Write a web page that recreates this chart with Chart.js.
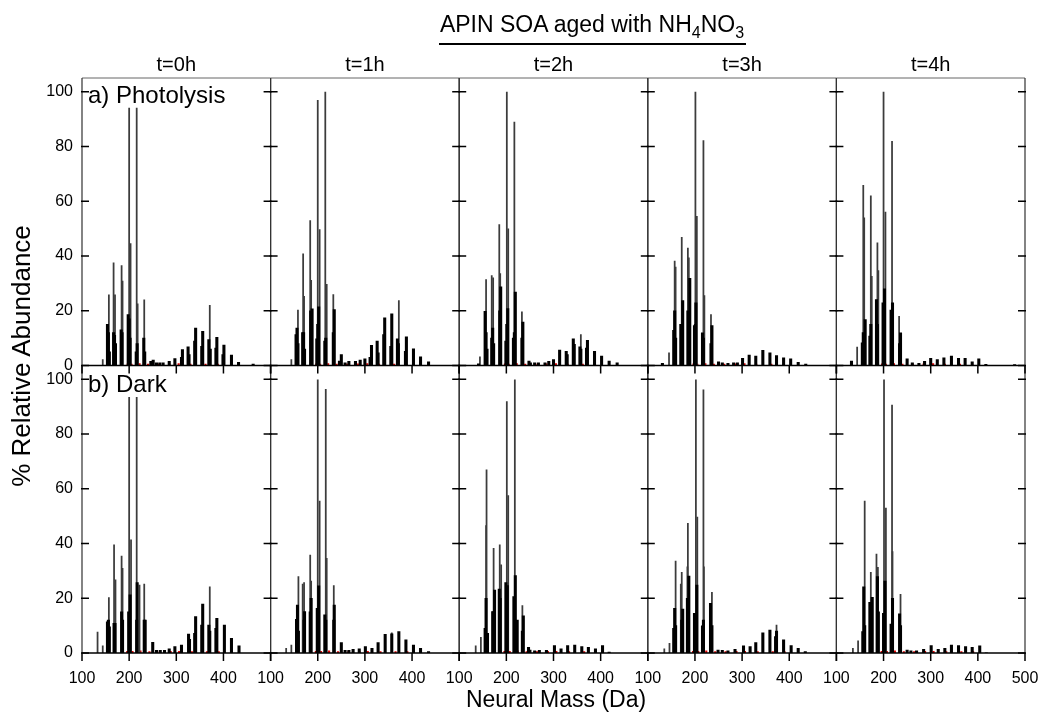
<!DOCTYPE html>
<html><head><meta charset="utf-8">
<script src="https://cdn.jsdelivr.net/npm/chart.js@4.4.1/dist/chart.umd.min.js"></script>
<style>
html,body{margin:0;padding:0;background:#fff;}
#wrap{position:relative;width:1043px;height:712px;overflow:hidden;font-family:"Liberation Sans",Arial,sans-serif;color:#000;background:#fff;}
#c{position:absolute;left:0;top:0;}
.t{position:absolute;white-space:nowrap;line-height:1;}
</style></head><body>
<div id="wrap"><canvas id="c" width="1043" height="712"></canvas></div>
<script>
// ---------- labels ----------
const timeLabels = ['t=0h','t=1h','t=2h','t=3h','t=4h'];
const rowLabels = ['a) Photolysis','b) Dark'];
const xTicks = [100,200,300,400,500];
const yTicks = [0,20,40,60,80,100];

// ---------- data: [neutral mass (Da), % relative abundance] ----------
// thin tall sticks
const photolysis_0h_peaks = [[144,2.2],[157,25.8],[167,37.5],[170,25.8],[184,36.5],[186,30.8],[200,94],[203,44.5],[216,94],[218,22.5],[232,24],[371,22]];
const photolysis_1h_peaks = [[144,2.2],[158,20.2],[169,40.8],[171,25.3],[184,52.9],[186,31.1],[200,96.8],[204,49.6],[216,99.9],[219,29.6],[233,25.9],[372,23.7]];
const photolysis_2h_peaks = [[144,3.2],[157,31.4],[169,32.8],[172,32],[185,51.5],[187,33.6],[201,99.9],[204,49.9],[217,88.9],[233,19.6],[358,11.3]];
const photolysis_3h_peaks = [[145,4.6],[157,38.1],[159,35.9],[172,46.8],[185,42.9],[187,39.3],[201,99.9],[204,54.5],[218,82.1],[220,25.5],[234,18.6]];
const photolysis_4h_peaks = [[144,6.7],[157,65.8],[159,53.9],[173,62],[175,32.6],[187,44.8],[189,34.7],[200,99.9],[204,56],[218,81.9],[233,18]];
const dark_0h_peaks = [[133,7.6],[144,2.6],[157,20.2],[168,39.5],[171,26.7],[184,35.4],[186,30.9],[200,93.4],[204,41.3],[216,93.4],[222,24.8],[232,25.2],[371,24.2]];
const dark_1h_peaks = [[133,1.7],[144,2.9],[159,27.9],[168,25.2],[171,25.7],[184,35.8],[186,26.3],[200,99.8],[204,55.5],[217,96.3],[219,34.6],[234,24.6],[357,7.4]];
const dark_2h_peaks = [[135,2.6],[146,5.7],[157,46.5],[158,66.9],[173,38.2],[186,39.5],[189,32.2],[201,91.8],[204,57.5],[218,99.8],[234,17.3]];
const dark_3h_peaks = [[135,1.5],[146,3.5],[159,33.6],[170,25.2],[172,29.5],[184,31.5],[185,47.4],[202,99.8],[205,49.6],[218,96.1],[219,31.5],[236,22.2],[373,10.2]];
const dark_4h_peaks = [[135,1.7],[146,4.4],[160,55.5],[173,29.5],[185,36.1],[188,31.3],[201,99.8],[205,52.9],[218,90.5],[219,37],[236,21.4]];
// filled cluster bases
const photolysis_0h_base = [[154,15],[156,12],[158,5],[167,12],[169,11],[171,8],[183,13],[185,12],[198,18.6],[200,17],[202,10],[215,5],[217,8],[231,10],[233,5],[246,1.5],[251,2],[258,1],[265,1],[272,1],[285,1.5],[297,2.5],[311,3],[313,5.8],[325,6.8],[327,4],[339,8.9],[341,13.7],[354,7],[356,12.5],[369,9.5],[372,6],[384,6.4],[386,10.3],[399,4],[401,7.5],[417,3.8],[432,1.2],[463,0.5]];
const photolysis_1h_base = [[154,11.3],[156,13.7],[158,8],[168,12],[170,12],[172,6],[185,20],[188,20.7],[198,9.7],[200,15],[202,21.4],[215,8.9],[217,10],[233,12],[235,20.4],[246,1.6],[250,4],[258,1],[266,1.5],[280,1.5],[290,2],[300,2.4],[311,3],[314,7.4],[326,8.9],[328,4.6],[340,11.3],[342,17.4],[355,7],[357,18.9],[369,9.7],[371,8],[386,5.2],[388,10.5],[403,6.1],[418,3.2],[435,1.3]];
const photolysis_2h_base = [[141,0.6],[155,19.8],[157,12],[159,6],[169,10],[171,13.7],[173,8],[186,20],[188,28.7],[199,8.9],[201,15],[203,20.8],[215,10],[217,12],[219,26.8],[233,10],[235,15.9],[248,1.6],[251,1],[260,1],[268,1],[282,1],[290,1.5],[300,2.2],[313,5.6],[327,5.2],[329,4],[342,9.7],[344,7.7],[356,6.8],[358,6],[370,6.4],[372,9.2],[387,5.2],[402,3.4],[418,1.6],[435,1]];
const photolysis_3h_base = [[131,0.8],[155,12.8],[157,20],[159,10],[170,15],[172,12],[174,23.7],[185,20],[189,31.8],[199,14.6],[201,15],[202,22.9],[216,11.9],[218,10],[234,8],[236,14.6],[250,1.3],[258,1],[270,0.8],[282,1],[290,1],[301,2.6],[315,3.8],[329,3.4],[344,5.5],[359,4.6],[373,3.6],[388,2.8],[403,2.4],[419,1.2],[435,0.5]];
const photolysis_4h_base = [[132,1.6],[155,8.3],[157,12],[161,16.8],[171,10.7],[173,15],[185,24.1],[187,15],[199,22.9],[202,28],[216,20.2],[219,22.9],[234,8],[236,11.9],[250,2.4],[261,1],[275,0.8],[287,1.5],[300,2.6],[314,2.2],[328,2.8],[344,3.4],[359,2.6],[373,2.6],[388,1.3],[402,2.4],[417,0.4],[478,0.3]];
const dark_0h_base = [[154,11.4],[156,12],[158,9.6],[168,10.8],[170,10.8],[184,15],[186,12],[199,15],[202,21.2],[216,12],[217,25.7],[232,12],[234,12],[250,3.9],[258,1],[266,1],[275,1],[285,1.5],[297,2.3],[311,2.9],[326,6.9],[328,5],[339,7.2],[341,13.3],[354,10.2],[356,17.9],[369,10.2],[371,8],[384,9],[386,12.7],[402,10.2],[417,5.4],[433,2.6]];
const dark_1h_base = [[155,12.3],[157,17.5],[159,8],[171,12],[172,15.1],[184,15],[186,20],[199,16.3],[202,24.5],[215,13.9],[217,12],[234,12],[235,17.5],[250,3.8],[258,1],[266,1],[275,1.3],[288,1.5],[301,2.3],[315,1.7],[328,3.8],[343,6.8],[357,7],[372,7.8],[387,4.8],[403,2.9],[418,1.7],[435,0.5]];
const dark_2h_base = [[155,9],[157,20],[160,7.2],[171,15.1],[173,15],[175,23],[185,23.3],[187,20],[199,25.7],[202,24.6],[216,20.6],[219,28.3],[223,12],[234,8],[236,13.6],[247,2.1],[250,1.1],[260,0.8],[270,1],[285,1],[302,2.7],[316,1.5],[330,2.7],[345,2.9],[360,2.3],[374,2.1],[389,1.5],[404,2.7],[418,0.3]];
const dark_3h_base = [[155,9],[157,16.3],[159,10],[172,12],[174,16],[184,20],[187,28.1],[199,14.5],[204,24.8],[216,9.9],[218,12],[233,18.1],[236,10],[249,1.1],[258,1],[270,0.8],[285,1.3],[303,2.6],[317,2.3],[329,3.8],[344,7.4],[359,8.4],[371,6],[373,8],[388,4.8],[404,2.7],[419,1.7],[434,0.5]];
const dark_4h_base = [[156,7.8],[158,24.2],[160,10],[171,18.5],[174,15],[176,20.3],[187,27.9],[189,15],[200,14.5],[203,26.3],[216,10.6],[219,20],[234,14.3],[236,10],[250,1.1],[258,0.8],[270,0.8],[285,1.3],[301,2.7],[316,1.3],[330,1.7],[344,2.9],[359,2.7],[374,2.3],[388,2.1],[404,2.6],[418,0.1]];
// small red traces near the baseline
const redPhotolysis = [[197,0.6],[205,0.5],[222,0.7],[240,0.5],[262,0.5],[285,0.6],[305,0.7],[330,0.5],[362,0.5],[388,0.5]];
const redDark = [[196,0.6],[207,0.6],[224,0.8],[243,0.5],[265,0.5],[288,0.6],[306,0.6],[333,0.5],[365,0.5],[390,0.5]];

const peakSets = [
  [photolysis_0h_peaks,photolysis_1h_peaks,photolysis_2h_peaks,photolysis_3h_peaks,photolysis_4h_peaks],
  [dark_0h_peaks,dark_1h_peaks,dark_2h_peaks,dark_3h_peaks,dark_4h_peaks]];
const baseSets = [
  [photolysis_0h_base,photolysis_1h_base,photolysis_2h_base,photolysis_3h_base,photolysis_4h_base],
  [dark_0h_base,dark_1h_base,dark_2h_base,dark_3h_base,dark_4h_base]];
const redSets = [redPhotolysis, redDark];

const rowIds = ['ya','yb'];
const colIds = ['x0','x1','x2','x3','x4'];
const FONT = '"Liberation Sans", Arial, sans-serif';
Chart.defaults.font.family = FONT;

const toXY = arr => arr.map(p => ({x:p[0], y:p[1]}));
const datasets = [];
for (let r=0;r<2;r++){
  for (let c=0;c<5;c++){
    datasets.push({data:toXY(baseSets[r][c]), xAxisID:colIds[c], yAxisID:rowIds[r], backgroundColor:'#000', barThickness:2.4, grouped:false, borderWidth:0});
    datasets.push({data:toXY(peakSets[r][c]), xAxisID:colIds[c], yAxisID:rowIds[r], backgroundColor:'#3c3c3c', barThickness:1.1, grouped:false, borderWidth:0});
    datasets.push({data:toXY(redSets[r]), xAxisID:colIds[c], yAxisID:rowIds[r], backgroundColor:'#e00000', barThickness:1.5, grouped:false, borderWidth:0});
  }
}

const scales = {};
// define yb first so that ya (row a) is stacked on top
['yb','ya'].forEach(id => {
  scales[id] = {
    type:'linear', axis:'y', position:'left', stack:'rows', stackWeight:1,
    min:0, max:105, offset:false,
    ticks:{stepSize:20, includeBounds:false, color:'#000', padding:9, font:{size:16, family:FONT}},
    grid:{display:false, drawTicks:false, offset:false}, border:{display:false},
    afterFit: s => { s.width = 82; s.paddingTop = 0; s.paddingBottom = 0; }
  };
});
colIds.forEach((id,c) => {
  scales[id] = {
    type:'linear', axis:'x', position:'bottom', stack:'cols', stackWeight:1,
    min:100, max:500, offset:false,
    ticks:{stepSize:100, includeBounds:false, autoSkip:false, maxRotation:0, minRotation:0, color:'#000', padding:16, font:{size:16, family:FONT},
      callback: v => (v===500 && c<4) ? '' : String(v)},
    grid:{display:false, drawTicks:false, offset:false}, border:{display:false},
    afterFit: s => { s.height = 59; s.paddingLeft = 0; s.paddingRight = 0; }
  };
});

const framePlugin = {
  id:'frames',
  afterDatasetsDraw(chart){
    const ctx = chart.ctx;
    ctx.save();
    rowIds.forEach(yid => {
      const ys = chart.scales[yid];
      const yTop = ys.getPixelForValue(105), yBot = ys.getPixelForValue(0);
      colIds.forEach(xid => {
        const xs = chart.scales[xid];
        const xL = xs.getPixelForValue(100), xR = xs.getPixelForValue(500);
        ctx.strokeStyle = '#666'; ctx.lineWidth = 1;
        ctx.beginPath(); ctx.moveTo(xL, yTop); ctx.lineTo(xR, yTop); ctx.stroke();
        ctx.strokeStyle = '#333'; ctx.lineWidth = 1.2;
        ctx.beginPath(); ctx.moveTo(xL, yTop); ctx.lineTo(xL, yBot); ctx.moveTo(xR, yTop); ctx.lineTo(xR, yBot); ctx.stroke();
      });
    });
    rowIds.forEach(yid => {
      const ys = chart.scales[yid];
      const yBot = ys.getPixelForValue(0);
      colIds.forEach(xid => {
        const xs = chart.scales[xid];
        const xL = xs.getPixelForValue(100), xR = xs.getPixelForValue(500);
        ctx.strokeStyle = '#000'; ctx.lineWidth = 1.5;
        ctx.beginPath(); ctx.moveTo(xL, yBot); ctx.lineTo(xR, yBot); ctx.stroke();
        ctx.beginPath();
        yTicks.forEach(v => {
          const y = ys.getPixelForValue(v);
          ctx.moveTo(xL-1, y); ctx.lineTo(xL+7, y);
          ctx.moveTo(xR-7, y); ctx.lineTo(xR+1, y);
        });
        xTicks.forEach(v => {
          const x = xs.getPixelForValue(v);
          ctx.moveTo(x, yBot); ctx.lineTo(x, yBot+8);
        });
        ctx.stroke();
      });
    });
    ctx.restore();
  }
};

const chart = new Chart(document.getElementById('c'), {
  type:'bar',
  data:{datasets},
  options:{
    responsive:false, animation:false, devicePixelRatio:1,
    layout:{padding:{top:78, right:18, bottom:0, left:0}},
    plugins:{legend:{display:false}, tooltip:{enabled:false}},
    scales
  },
  plugins:[framePlugin]
});

// ---------- HTML text overlays positioned from the chart scales ----------
const wrap = document.getElementById('wrap');
function addText(html, css){
  const d = document.createElement('div');
  d.className = 't'; d.innerHTML = html;
  Object.assign(d.style, css);
  wrap.appendChild(d);
  return d;
}
colIds.forEach((id,c) => {
  const xs = chart.scales[id];
  const cx = xs.getPixelForValue(300);
  addText(timeLabels[c], {left:(cx-60)+'px', width:'120px', textAlign:'center', top:'54px', fontSize:'20px'});
});
const ya = chart.scales.ya, yb = chart.scales.yb;
const x0 = chart.scales.x0;
const x0L = x0.getPixelForValue(100);
addText(rowLabels[0], {left:(x0L+6)+'px', top:(ya.getPixelForValue(105)+5)+'px', fontSize:'24px'});
addText(rowLabels[1], {left:(x0L+6)+'px', top:(yb.getPixelForValue(105)+6)+'px', fontSize:'24px'});
addText('APIN SOA aged with NH<span style="font-size:16px;position:relative;top:6px">4</span>NO<span style="font-size:16px;position:relative;top:6px">3</span>',
  {left:'392px', width:'400px', textAlign:'center', top:'13px', fontSize:'23px'});
addText('', {left:'439px', width:'307px', top:'43px', height:'0px', borderTop:'2px solid #000'});
addText('% Relative Abundance', {left:(21-200)+'px', width:'400px', textAlign:'center', top:(356-13)+'px', fontSize:'26px', transform:'rotate(-90deg)', transformOrigin:'200px 13px'});
addText('Neural Mass (Da)', {left:(556-150)+'px', width:'300px', textAlign:'center', top:'688px', fontSize:'23px'});
</script>
</body></html>
